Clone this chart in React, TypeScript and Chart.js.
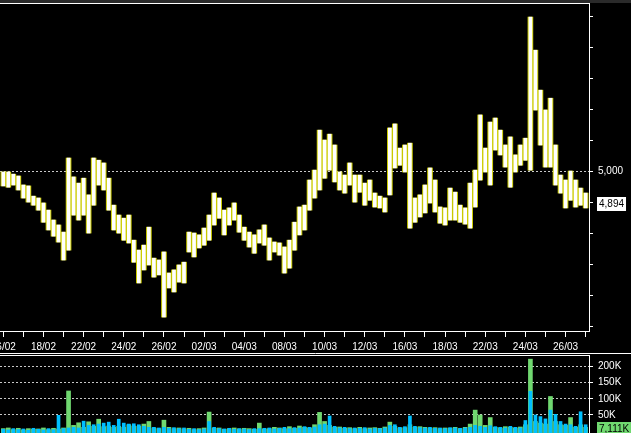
import React, { useEffect, useRef } from 'react';
import { Chart, registerables } from 'chart.js';

Chart.register(...registerables);

// ---------- data ----------
const DATE_LABELS = [
  '16/02', '17/02', '18/02', '19/02', '22/02', '23/02', '24/02', '25/02', '26/02', '01/03',
  '02/03', '03/03', '04/03', '05/03', '08/03', '09/03', '10/03', '11/03', '12/03', '15/03',
  '16/03', '17/03', '18/03', '19/03', '22/03', '23/03', '24/03', '25/03', '26/03', '29/03',
];
const BARS_PER_DAY = 4;

const PRICE_HIGH = [
  4997, 4997, 4990, 4984, 4955, 4952, 4919, 4913, 4897, 4874,
  4842, 4826, 4803, 5042, 4981, 4961, 4977, 4923, 5042, 5035,
  5026, 4977, 4890, 4858, 4848, 4858, 4777, 4745, 4761, 4819,
  4719, 4713, 4739, 4671, 4681, 4697, 4706, 4803, 4800, 4794,
  4816, 4858, 4929, 4913, 4874, 4881, 4897, 4858, 4819, 4803,
  4794, 4810, 4826, 4784, 4771, 4768, 4755, 4777, 4835, 4884,
  4890, 4971, 5003, 5132, 5100, 5119, 5084, 4997, 4987, 5026,
  4987, 4987, 4961, 4971, 4929, 4919, 4913, 5139, 5152, 5074,
  5084, 5090, 4913, 4923, 4955, 5010, 4971, 4884, 4881, 4945,
  4932, 4890, 4881, 4961, 5003, 5181, 5074, 5158, 5171, 5132,
  5084, 5110, 5052, 5084, 5106, 5497, 5390, 5261, 5197, 5235,
  5084, 4987, 4971, 5000, 4971, 4945, 4929,
];
const PRICE_LOW = [
  4952, 4948, 4955, 4939, 4913, 4900, 4890, 4874, 4835, 4810,
  4790, 4771, 4713, 4745, 4858, 4842, 4858, 4800, 4890, 4955,
  4939, 4874, 4810, 4800, 4777, 4768, 4706, 4639, 4681, 4697,
  4658, 4665, 4529, 4623, 4610, 4642, 4639, 4739, 4723, 4752,
  4761, 4777, 4826, 4848, 4794, 4826, 4842, 4803, 4777, 4755,
  4735, 4768, 4761, 4713, 4739, 4729, 4671, 4687, 4745, 4794,
  4810, 4874, 4913, 4939, 4977, 5003, 4965, 4939, 4929, 4955,
  4900, 4932, 4890, 4906, 4884, 4881, 4868, 4923, 5010, 5019,
  4997, 4816, 4835, 4852, 4865, 4897, 4868, 4832, 4826, 4842,
  4842, 4835, 4829, 4816, 4884, 4971, 4997, 4955, 5068, 5052,
  5013, 4948, 4997, 5019, 5035, 5003, 5197, 5084, 5013, 5013,
  4955, 4929, 4881, 4906, 4884, 4890, 4881,
];

// volume in thousands
const VOL_CYAN = [
  6, 4, 8, 5, 7, 3, 9, 6, 4, 8,
  5, 49, 8, 10, 12, 10, 31, 18, 20, 22,
  25, 28, 18, 37, 25, 22, 23, 20, 15, 12,
  12, 10, 12, 9, 11, 8, 10, 6, 8, 5,
  7, 30, 12, 8, 7, 9, 6, 8, 7, 5,
  8, 8, 9, 10, 7, 9, 12, 8, 11, 10,
  14, 12, 13, 20, 22, 47, 15, 10, 12, 8,
  10, 9, 11, 7, 9, 8, 10, 18, 20, 12,
  14, 47, 15, 11, 10, 12, 9, 10, 8, 11,
  10, 9, 10, 12, 18, 15, 12, 17, 14, 12,
  10, 15, 12, 10, 33, 123, 50, 45, 38, 65,
  52, 30, 22, 20, 15, 60, 20,
];
const VOL_GREEN = [
  8, 10, 5, 9, 4, 8, 6, 7, 10, 5,
  9, 7, 10, 124, 18, 26, 12, 29, 15, 37,
  14, 16, 12, 15, 12, 20, 16, 15, 22, 30,
  10, 8, 34, 12, 8, 10, 7, 9, 5, 8,
  10, 59, 9, 10, 6, 8, 10, 7, 9, 8,
  6, 25, 7, 8, 12, 10, 8, 14, 9, 16,
  12, 10, 20, 58, 30, 18, 12, 13, 9, 11,
  8, 12, 8, 10, 11, 9, 13, 28, 15, 10,
  11, 20, 12, 14, 12, 9, 11, 8, 10, 9,
  12, 8, 12, 22, 65, 50, 18, 42, 12, 10,
  14, 12, 10, 13, 20, 222, 30, 25, 22, 107,
  30, 20, 18, 42, 12, 20, 12,
];

const PRICE_TICKS = [4500, 4600, 4700, 4800, 4900, 5000, 5100, 5200, 5300, 5400, 5500];
const PRICE_LABELED = [5000];
const VOL_TICKS = [50, 100, 150, 200];
const LAST_PRICE = 4894;
const LAST_VOLUME_TEXT = '7,111K';
const LAST_VOLUME = 7.111;

// ---------- styles ----------
const FONT = '"Liberation Sans", Arial, sans-serif';
const WHITE = '#ffffff';
const YELLOW = '#cccc00';
const CYAN = '#00c0ff';
const GREEN = '#70d870';
const GRID = '#c8c8c8';

const X_MIN = -0.164;
const X_MAX = 29.168;
const Y_MIN = 4484;
const Y_MAX = 5539;
const V_MIN = -5.5;
const V_MAX = 231.7;

const fmt = (v: number) => v.toLocaleString('en-US');

export default function App() {
  const mainRef = useRef<HTMLCanvasElement>(null);
  const volRef = useRef<HTMLCanvasElement>(null);

  useEffect(() => {
    const times = PRICE_HIGH.map((_, i) => i / BARS_PER_DAY);
    const priceData = times.map((t, i) => ({ x: t, y: [PRICE_LOW[i], PRICE_HIGH[i]] }));

    const mainPlugin = {
      id: 'mainFrame',
      beforeDraw(chart: any) {
        const ctx = chart.ctx;
        ctx.save();
        ctx.fillStyle = '#000';
        ctx.fillRect(0, 0, chart.width, chart.height);
        ctx.fillStyle = '#2a2a2a';
        ctx.fillRect(0, 0, chart.width, 3);
        ctx.restore();
      },
      afterDraw(chart: any) {
        const ctx = chart.ctx;
        const area = chart.chartArea;
        ctx.save();
        ctx.strokeStyle = WHITE;
        ctx.lineWidth = 1;
        ctx.beginPath();
        ctx.moveTo(0, 3.5);
        ctx.lineTo(area.right + 1, 3.5);
        ctx.stroke();
        const y = chart.scales.y.getPixelForValue(LAST_PRICE);
        ctx.font = `10px ${FONT}`;
        const text = fmt(LAST_PRICE);
        const w = ctx.measureText(text).width;
        ctx.fillStyle = WHITE;
        ctx.fillRect(597, Math.round(y) - 7, w + 4, 14);
        ctx.fillStyle = '#000';
        ctx.textBaseline = 'middle';
        ctx.fillText(text, 599, Math.round(y) + 0.5);
        ctx.restore();
      },
    };

    const main = new Chart(mainRef.current as HTMLCanvasElement, {
      type: 'bar',
      data: {
        datasets: [
          {
            data: priceData as any,
            backgroundColor: WHITE,
            borderWidth: 0,
            barThickness: 3,
            grouped: false,
          } as any,
          {
            data: priceData as any,
            backgroundColor: YELLOW,
            borderWidth: 0,
            barThickness: 5,
            grouped: false,
          } as any,
        ],
      },
      options: {
        animation: false,
        responsive: false,
        devicePixelRatio: 1,
        layout: { padding: { top: 4, left: 0, right: 0, bottom: 0 } },
        plugins: { legend: { display: false }, tooltip: { enabled: false }, title: { display: false } },
        scales: {
          x: {
            type: 'linear',
            min: X_MIN,
            max: X_MAX,
            offset: false,
            grid: { display: true, drawOnChartArea: false, drawTicks: true, tickLength: 6, color: WHITE, tickColor: WHITE, offset: false },
            border: { display: true, color: WHITE, width: 1 },
            ticks: {
              autoSkip: false,
              maxRotation: 0,
              minRotation: 0,
              padding: 4,
              color: WHITE,
              font: { family: FONT, size: 10 },
              callback: (v: any) => (Number(v) % 2 === 0 ? DATE_LABELS[Number(v)] : ''),
            },
            afterBuildTicks: (axis: any) => {
              axis.ticks = DATE_LABELS.map((_, i) => ({ value: i }));
            },
            afterFit: (axis: any) => {
              axis.height = 21;
              axis.paddingLeft = 0;
              axis.paddingRight = 0;
            },
          } as any,
          y: {
            type: 'linear',
            position: 'right',
            min: Y_MIN,
            max: Y_MAX,
            grid: {
              display: true,
              drawOnChartArea: true,
              drawTicks: true,
              tickLength: 4,
              tickColor: WHITE,
              color: (c: any) => (c.tick && PRICE_LABELED.includes(c.tick.value) ? GRID : 'rgba(0,0,0,0)'),
            },
            border: { display: true, color: WHITE, width: 1, dash: [2, 2] },
            ticks: {
              autoSkip: false,
              padding: 5,
              color: WHITE,
              font: { family: FONT, size: 10 },
              callback: (v: any) => (PRICE_LABELED.includes(Number(v)) ? fmt(Number(v)) : ''),
            },
            afterBuildTicks: (axis: any) => {
              axis.ticks = PRICE_TICKS.map((v) => ({ value: v }));
            },
            afterFit: (axis: any) => {
              axis.width = 42;
              axis.paddingTop = 0;
              axis.paddingBottom = 0;
            },
          } as any,
        },
      },
      plugins: [mainPlugin],
    });

    const volPlugin = {
      id: 'volFrame',
      beforeDraw(chart: any) {
        const ctx = chart.ctx;
        ctx.save();
        ctx.fillStyle = '#000';
        ctx.fillRect(0, 0, chart.width, chart.height);
        ctx.restore();
      },
      afterDraw(chart: any) {
        const ctx = chart.ctx;
        const area = chart.chartArea;
        ctx.save();
        ctx.strokeStyle = WHITE;
        ctx.lineWidth = 1;
        ctx.beginPath();
        ctx.moveTo(0, 1.5);
        ctx.lineTo(chart.width, 1.5);
        ctx.moveTo(0, 3.5);
        ctx.lineTo(area.right + 1, 3.5);
        ctx.moveTo(area.right + 0.5, 3);
        ctx.lineTo(area.right + 0.5, area.top + 1);
        ctx.stroke();
        const y = chart.scales.y.getPixelForValue(LAST_VOLUME);
        ctx.font = `10px ${FONT}`;
        const w = ctx.measureText(LAST_VOLUME_TEXT).width;
        ctx.fillStyle = GREEN;
        ctx.fillRect(597, Math.round(y) - 7, w + 4, 14);
        ctx.fillStyle = '#000';
        ctx.textBaseline = 'middle';
        ctx.fillText(LAST_VOLUME_TEXT, 599, Math.round(y) + 0.5);
        ctx.restore();
      },
    };

    const vol = new Chart(volRef.current as HTMLCanvasElement, {
      type: 'bar',
      data: {
        datasets: [
          {
            data: times.map((t, i) => ({ x: t, y: VOL_CYAN[i] })) as any,
            backgroundColor: CYAN,
            borderWidth: 0,
            barThickness: 3,
            grouped: false,
            base: V_MIN,
          } as any,
          {
            data: times.map((t, i) => ({ x: t, y: VOL_GREEN[i] })) as any,
            backgroundColor: GREEN,
            borderWidth: 0,
            barThickness: 4,
            grouped: false,
            base: V_MIN,
          } as any,
        ],
      },
      options: {
        animation: false,
        responsive: false,
        devicePixelRatio: 1,
        layout: { padding: { top: 4, left: 0, right: 0, bottom: 0 } },
        plugins: { legend: { display: false }, tooltip: { enabled: false }, title: { display: false } },
        scales: {
          x: {
            type: 'linear',
            display: false,
            min: X_MIN,
            max: X_MAX,
            offset: false,
          } as any,
          y: {
            type: 'linear',
            position: 'right',
            min: V_MIN,
            max: V_MAX,
            grid: { display: true, drawOnChartArea: true, drawTicks: true, tickLength: 4, tickColor: WHITE, color: GRID },
            border: { display: true, color: WHITE, width: 1, dash: [2, 2] },
            ticks: {
              autoSkip: false,
              padding: 5,
              color: WHITE,
              font: { family: FONT, size: 10 },
              callback: (v: any) => `${v}K`,
            },
            afterBuildTicks: (axis: any) => {
              axis.ticks = VOL_TICKS.map((v) => ({ value: v }));
            },
            afterFit: (axis: any) => {
              axis.width = 42;
              axis.paddingTop = 0;
              axis.paddingBottom = 0;
            },
          } as any,
        },
      },
      plugins: [volPlugin],
    });

    return () => {
      main.destroy();
      vol.destroy();
    };
  }, []);

  return (
    <div style={{ position: 'absolute', left: 0, top: 0, width: 631, height: 433, background: '#000', overflow: 'hidden' }}>
      <canvas ref={mainRef} width={631} height={352} style={{ position: 'absolute', left: 0, top: 0, width: 631, height: 352 }} />
      <canvas ref={volRef} width={631} height={81} style={{ position: 'absolute', left: 0, top: 352, width: 631, height: 81 }} />
    </div>
  );
}
